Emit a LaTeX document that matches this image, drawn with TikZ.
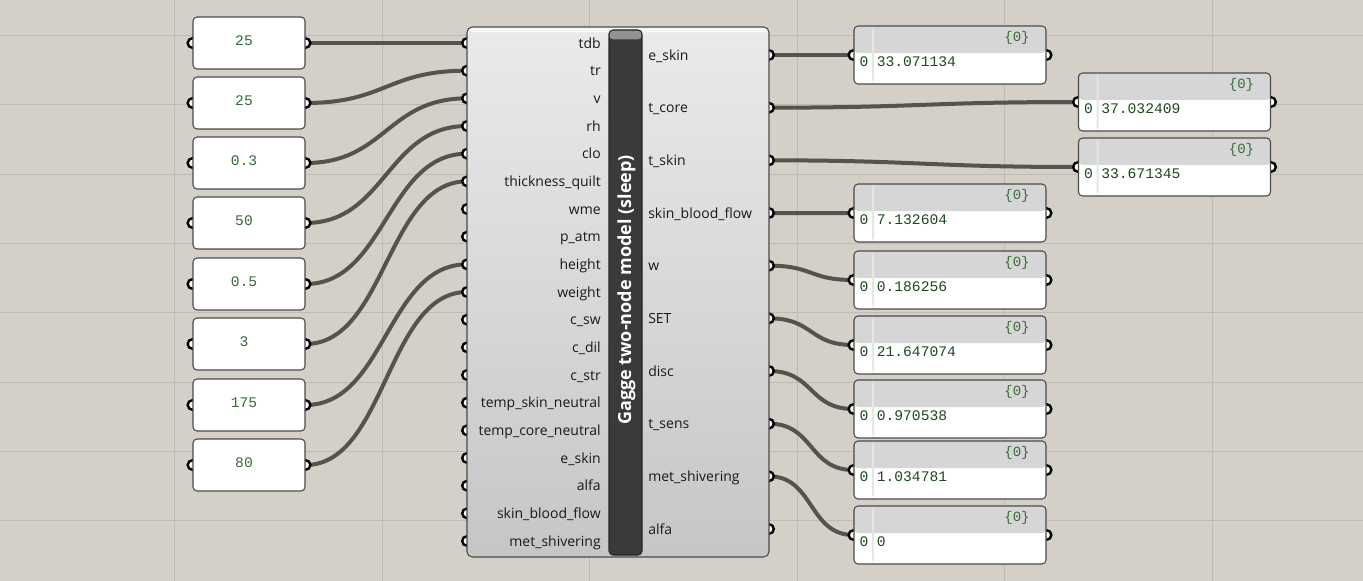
\documentclass[tikz,border=0pt]{standalone}
\usepackage{fontspec}
\setmainfont{Open Sans}
\newfontfamily\gmono{Liberation Mono}
\pgfdeclarelayer{gridlayer}
\pgfdeclarelayer{wirelayer}
\pgfdeclarelayer{portlayer}
\pgfsetlayers{gridlayer,wirelayer,portlayer,main}
\definecolor{canvas}{HTML}{D4D0C8}
\definecolor{gridc}{HTML}{BFBBB3}
\definecolor{wirec}{HTML}{56534E}
\definecolor{boxedge}{HTML}{4A4A4A}
\definecolor{valgreen}{HTML}{3A6A3A}
\definecolor{pgreen}{HTML}{1F4A1F}
\definecolor{hdrgray}{HTML}{D6D6D6}
\definecolor{sepgray}{HTML}{E6E6E6}
\definecolor{bardark}{HTML}{3A3A3A}
\definecolor{compTop}{HTML}{EAEAEA}
\definecolor{compBot}{HTML}{C6C6C6}
\tikzset{
  gridline/.style={draw=gridc, line width=0.75pt},
  numbox/.style={draw=boxedge, line width=0.8pt, fill=white, rounded corners=3pt,
    minimum width=84pt, minimum height=39pt, inner sep=0pt},
  numval/.style={inner sep=0pt, text=valgreen, font=\gmono\fontsize{11}{13}\selectfont},
  wire/.style={draw=wirec, line width=3pt},
  port/.style={draw=black, fill=white, line width=1.8pt},
  inlabel/.style={anchor=mid east, inner sep=0pt, text=black!90, font=\fontsize{10.5}{12}\selectfont},
  outlabel/.style={anchor=mid west, inner sep=0pt, text=black!90, font=\fontsize{10.5}{12}\selectfont},
  compbox/.style={draw=boxedge, line width=0.8pt, rounded corners=4pt, top color=compTop,
    bottom color=compBot, minimum width=226.5pt, minimum height=397.5pt, inner sep=0pt,
    path picture={\fill[white!60!compTop] (path picture bounding box.north west) rectangle
      ([yshift=-4pt]path picture bounding box.north east);}},
  titlebar/.style={fill=bardark, draw=black!85, line width=0.8pt, rounded corners=3pt,
    minimum width=24.75pt, minimum height=393.75pt, inner sep=0pt,
    path picture={\shade[top color=gray!85!white, bottom color=bardark]
      (path picture bounding box.north west) rectangle ([yshift=-7pt]path picture bounding box.north east);}},
  titletext/.style={rotate=90, inner sep=0pt, text=white, font=\bfseries\fontsize{13.5}{15}\selectfont},
  panel/.style={draw=boxedge, line width=0.8pt, fill=white, rounded corners=3pt,
    minimum width=144pt, minimum height=43.5pt, inner sep=0pt,
    path picture={\fill[hdrgray] (path picture bounding box.north west) rectangle
      ([yshift=-20.25pt]path picture bounding box.north east);
      \fill[sepgray] ([xshift=13.6pt]path picture bounding box.north west) rectangle
      ([xshift=15.1pt]path picture bounding box.south west);}},
  pcount/.style={inner sep=0pt, text=valgreen, font=\gmono\fontsize{10.5}{12}\selectfont},
  pidx/.style={inner sep=0pt, text=pgreen, font=\gmono\fontsize{11}{13}\selectfont},
  pval/.style={anchor=west, inner sep=0pt, text=pgreen, font=\gmono\fontsize{11}{13}\selectfont},
}
\begin{document}
\begin{tikzpicture}[x=0.75pt,y=-0.75pt]
\useasboundingbox (0,0) rectangle (1363,581);
\begin{pgfonlayer}{gridlayer}
  \fill[canvas] (0,0) rectangle (1363,581);
  \foreach \gx in {174.5,382,589.5,797,1004.5,1212} \draw[gridline] (\gx,0) -- (\gx,581);
  \foreach \gy in {35.5,104.8,174.1,243.4,312.7,382,451.3,520.6} \draw[gridline] (0,\gy) -- (1363,\gy);
\end{pgfonlayer}

% main component
\node[compbox] (comp) at (618,292) {};
\node[titlebar] (bar) at (625.5,292.5) {};
\node[titletext] (title) at (626.5,290) {Gagge two-node model (sleep)};

\foreach \lab [count=\k from 0] in {tdb,tr,v,rh,clo,thickness\_quilt,wme,p\_atm,height,weight,c\_sw,c\_dil,c\_str,temp\_skin\_neutral,temp\_core\_neutral,e\_skin,alfa,skin\_blood\_flow,met\_shivering} {
  \pgfmathsetmacro\yy{43+27.667*\k}
  \coordinate (ci\k) at (467,\yy);
  \node[inlabel] (il\k) at (601,\yy+1.5) {\lab};
}
\foreach \lab [count=\k from 0] in {e\_skin,t\_core,t\_skin,skin\_blood\_flow,w,SET,disc,t\_sens,met\_shivering,alfa} {
  \pgfmathsetmacro\yy{55+52.667*\k}
  \coordinate (co\k) at (769,\yy);
  \node[outlabel] (ol\k) at (648,\yy+1.5) {\lab};
}

% input number boxes
\foreach \v/\yy [count=\i] in {25/43,25/103,0.3/163,50/223,0.5/284,3/344,175/405,80/465} {
  \node[numbox] (in\i) at (249,\yy) {};
  \node[numval] (nv\i) at (244,\yy-2) {\v};
}

% output panels
\foreach \cx/\cy/\val [count=\n] in {950/55/33.071134,950/213/7.132604,950/280/0.186256,950/345/21.647074,950/409/0.970538,950/470/1.034781,950/535/0,1174.5/102/37.032409,1174.5/167/33.671345} {
  \node[panel] (p\n) at (\cx,\cy) {};
  \node[pcount] (pc\n) at (\cx+67,\cy-17) {\{0\}};
  \node[pidx] (pi\n) at (\cx-86,\cy+6.5) {0};
  \node[pval] (pv\n) at (\cx-73.5,\cy+6.5) {\val};
}

\begin{pgfonlayer}{wirelayer}
  \foreach \i/\k in {1/0,2/1,3/2,4/3,5/4,6/5,7/8,8/9}
    \draw[wire] (in\i.east) .. controls +(80,0) and +(-80,0) .. (ci\k);
  \draw[wire] (co0) -- (p1.west);
  \draw[wire] (co1) .. controls +(150,0) and +(-150,0) .. (p8.west);
  \draw[wire] (co2) .. controls +(150,0) and +(-150,0) .. (p9.west);
  \draw[wire] (co3) -- (p2.west);
  \foreach \k/\n in {4/3,5/4,6/5,7/6,8/7}
    \draw[wire] (co\k) .. controls +(45,0) and +(-45,0) .. (p\n.west);
\end{pgfonlayer}

\begin{pgfonlayer}{portlayer}
  \foreach \i in {1,...,8} {
    \draw[port] (in\i.west) circle[radius=3.6pt];
    \draw[port] (in\i.east) circle[radius=3.6pt];
  }
  \foreach \k in {0,...,18} \draw[port] (ci\k) circle[radius=3.6pt];
  \foreach \k in {0,...,9} \draw[port] (co\k) circle[radius=3.6pt];
  \foreach \n in {1,...,9} {
    \draw[port] (p\n.west) circle[radius=3.6pt];
    \draw[port] (p\n.east) circle[radius=3.6pt];
  }
\end{pgfonlayer}
\end{tikzpicture}
\end{document}
